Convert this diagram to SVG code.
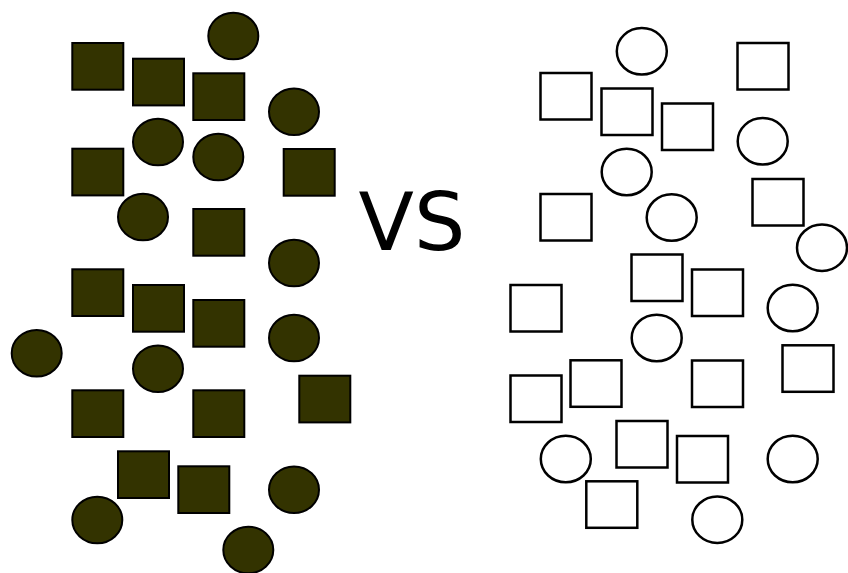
<svg xmlns="http://www.w3.org/2000/svg" width="848" height="573" viewBox="0 0 848 573">
<style>
.ds{fill:#333300;stroke:#000;stroke-width:2}
.ls{fill:#fff;stroke:#000;stroke-width:2.5}
.vs{font-family:"DejaVu Sans",sans-serif;font-size:81px;fill:#000}
</style>
<rect width="848" height="573" fill="#fff"/>
<g id="left">
<g id="ls1"><rect class="ds" x="72.3" y="43" width="51" height="46.7"/></g>
<g id="ls2"><rect class="ds" x="133" y="58.7" width="51" height="46.7"/></g>
<g id="ls3"><rect class="ds" x="193.3" y="73.3" width="51" height="46.7"/></g>
<g id="ls4"><rect class="ds" x="72.3" y="148.7" width="51" height="46.7"/></g>
<g id="ls5"><rect class="ds" x="283.7" y="149" width="51" height="46.7"/></g>
<g id="ls6"><rect class="ds" x="193.3" y="209" width="51" height="46.7"/></g>
<g id="ls7"><rect class="ds" x="72.3" y="269.3" width="51" height="46.7"/></g>
<g id="ls8"><rect class="ds" x="133" y="285" width="51" height="46.7"/></g>
<g id="ls9"><rect class="ds" x="193.3" y="300" width="51" height="46.7"/></g>
<g id="ls10"><rect class="ds" x="72.3" y="390.3" width="51" height="46.7"/></g>
<g id="ls11"><rect class="ds" x="193.3" y="390.3" width="51" height="46.7"/></g>
<g id="ls12"><rect class="ds" x="299.3" y="375.7" width="51" height="46.7"/></g>
<g id="ls13"><rect class="ds" x="118" y="451.3" width="51" height="46.7"/></g>
<g id="ls14"><rect class="ds" x="178.3" y="466.3" width="51" height="46.7"/></g>
<g id="lc1"><ellipse class="ds" cx="233.3" cy="36" rx="25" ry="23.3"/></g>
<g id="lc2"><ellipse class="ds" cx="294" cy="111.7" rx="25" ry="23.3"/></g>
<g id="lc3"><ellipse class="ds" cx="158" cy="142" rx="25" ry="23.3"/></g>
<g id="lc4"><ellipse class="ds" cx="218.3" cy="157" rx="25" ry="23.3"/></g>
<g id="lc5"><ellipse class="ds" cx="143" cy="217" rx="25" ry="23.3"/></g>
<g id="lc6"><ellipse class="ds" cx="294" cy="263" rx="25" ry="23.3"/></g>
<g id="lc7"><ellipse class="ds" cx="294" cy="338" rx="25" ry="23.3"/></g>
<g id="lc8"><ellipse class="ds" cx="36.7" cy="353.3" rx="25" ry="23.3"/></g>
<g id="lc9"><ellipse class="ds" cx="158" cy="368.7" rx="25" ry="23.3"/></g>
<g id="lc10"><ellipse class="ds" cx="294" cy="489.7" rx="25" ry="23.3"/></g>
<g id="lc11"><ellipse class="ds" cx="97.3" cy="520" rx="25" ry="23.3"/></g>
<g id="lc12"><ellipse class="ds" cx="248.3" cy="550" rx="25" ry="23.3"/></g>
</g>
<g id="label"><text class="vs" x="412" y="250" text-anchor="middle">VS</text></g>
<g id="right">
<g id="rs1"><rect class="ls" x="737.5" y="43" width="51" height="46.5"/></g>
<g id="rs2"><rect class="ls" x="540.5" y="73" width="51" height="46.5"/></g>
<g id="rs3"><rect class="ls" x="601.5" y="88.5" width="51" height="46.5"/></g>
<g id="rs4"><rect class="ls" x="662" y="103.5" width="51" height="46.5"/></g>
<g id="rs5"><rect class="ls" x="540.5" y="194" width="51" height="46.5"/></g>
<g id="rs6"><rect class="ls" x="752.5" y="179" width="51" height="46.5"/></g>
<g id="rs7"><rect class="ls" x="631.5" y="254.5" width="51" height="46.5"/></g>
<g id="rs8"><rect class="ls" x="692" y="269.5" width="51" height="46.5"/></g>
<g id="rs9"><rect class="ls" x="510.5" y="285" width="51" height="46.5"/></g>
<g id="rs10"><rect class="ls" x="782.5" y="345.3" width="51" height="46.5"/></g>
<g id="rs11"><rect class="ls" x="570.5" y="360.3" width="51" height="46.5"/></g>
<g id="rs12"><rect class="ls" x="692" y="360.5" width="51" height="46.5"/></g>
<g id="rs13"><rect class="ls" x="510.5" y="375.5" width="51" height="46.5"/></g>
<g id="rs14"><rect class="ls" x="616.5" y="421" width="51" height="46.5"/></g>
<g id="rs15"><rect class="ls" x="677" y="436" width="51" height="46.5"/></g>
<g id="rs16"><rect class="ls" x="586.3" y="481.3" width="51" height="46.5"/></g>
<g id="rc1"><ellipse class="ls" cx="641.8" cy="51.3" rx="25" ry="23.3"/></g>
<g id="rc2"><ellipse class="ls" cx="762.7" cy="141.3" rx="25" ry="23.3"/></g>
<g id="rc3"><ellipse class="ls" cx="626.7" cy="172" rx="25" ry="23.3"/></g>
<g id="rc4"><ellipse class="ls" cx="671.7" cy="217.5" rx="25" ry="23.3"/></g>
<g id="rc5"><ellipse class="ls" cx="822" cy="247.7" rx="25" ry="23.3"/></g>
<g id="rc6"><ellipse class="ls" cx="792.7" cy="308" rx="25" ry="23.3"/></g>
<g id="rc7"><ellipse class="ls" cx="656.7" cy="338" rx="25" ry="23.3"/></g>
<g id="rc8"><ellipse class="ls" cx="565.8" cy="459" rx="25" ry="23.3"/></g>
<g id="rc9"><ellipse class="ls" cx="792.7" cy="459" rx="25" ry="23.3"/></g>
<g id="rc10"><ellipse class="ls" cx="717.3" cy="519.7" rx="25" ry="23.3"/></g>
</g>
</svg>
